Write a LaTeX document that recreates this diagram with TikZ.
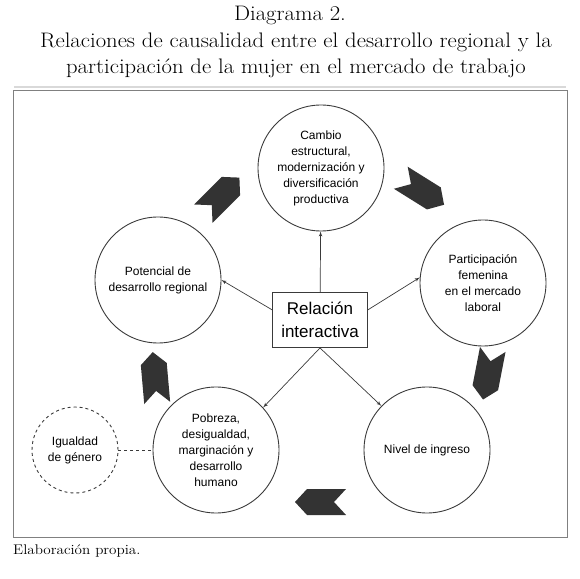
\documentclass[tikz,border=0pt]{standalone}
\usepackage{fontspec}
\usepackage{graphicx}
\usepackage{tikz}
\usetikzlibrary{arrows}
\usetikzlibrary{positioning}
\newfontfamily\circfont{Liberation Sans}
\newcommand{\widetext}[2]{\scalebox{1.08}[1]{\fontsize{#1}{#1}\selectfont #2}}
\definecolor{chevgray}{HTML}{333333}
\definecolor{linegray}{HTML}{3A3A3A}
\tikzset{circ/.style = {draw=linegray, line width=0.9, circle, minimum size=126,
                        inner sep=0, align=center, font=\circfont\fontsize{12}{16}\selectfont}}
\tikzset{relbox/.style = {draw=linegray, line width=0.9, minimum width=95, minimum height=55,
                          align=center, font=\circfont\fontsize{17}{23}\selectfont}}
\tikzset{link/.style = {->, >=latex', draw=linegray, line width=0.7}}

\begin{document}
\begin{tikzpicture}[x=1pt, y=1pt]
    \useasboundingbox (0, 0) rectangle (580, 578);

    % title
    \node (tit1) at (290, 563) {\widetext{21}{Diagrama 2.}};
    \node (tit2) at (296, 536) {\widetext{21}{Relaciones de causalidad entre el desarrollo regional y la}};
    \node (tit3) at (296, 510) {\widetext{21}{participación de la mujer en el mercado de trabajo}};
    \draw [gray!30, line width=1.5] (14, 491) -- (566, 491);
    \draw [gray, line width=0.7] (13, 41) rectangle (567, 488);
    \node [anchor=west, inner sep=0] (src) at (13, 27) {\widetext{14}{Elaboración propia.}};

    % circles
    \node [circ] (top) at (321, 410) {Cambio\\estructural,\\modernización y\\diversificación\\productiva};
    \node [circ] (right) at (483, 295) {Participación\\femenina\\en el mercado\\laboral};
    \node [circ] (lowright) at (427, 128) {Nivel de ingreso};
    \node [circ] (lowleft) at (216, 128) {Pobreza,\\desigualdad,\\marginación y\\desarrollo\\humano};
    \node [circ] (left) at (158, 298) {Potencial de\\desarrollo regional};
    \node [circ, dashed, minimum size=86] (gender) at (75, 128) {Igualdad\\de género};

    \node [relbox] (box) at (320, 258) {Relación\\interactiva};

    \draw [link] (box) -- (top);
    \draw [link] (box.168) -- (left.east);
    \draw [link] (box.12) -- (right.175);
    \draw [link] (box.south) -- (lowleft.42);
    \draw [link] (box.south) -- (lowright.136);
    \draw [dashed, draw=linegray, line width=0.7] (gender) -- (lowleft);

    % cycle chevrons
    \foreach \x/\y/\a in {221/382/45, 422/387/-32, 488/204/-101, 321/76/180, 155/200/95} {
      \begin{scope}[shift={(\x, \y)}, rotate=\a]
        \fill [chevgray] (26, 0) -- (14, 13) -- (-25, 13) -- (-13, 0)
                         -- (-25, -13) -- (14, -13) -- cycle;
      \end{scope}
    }
\end{tikzpicture}
\end{document}
